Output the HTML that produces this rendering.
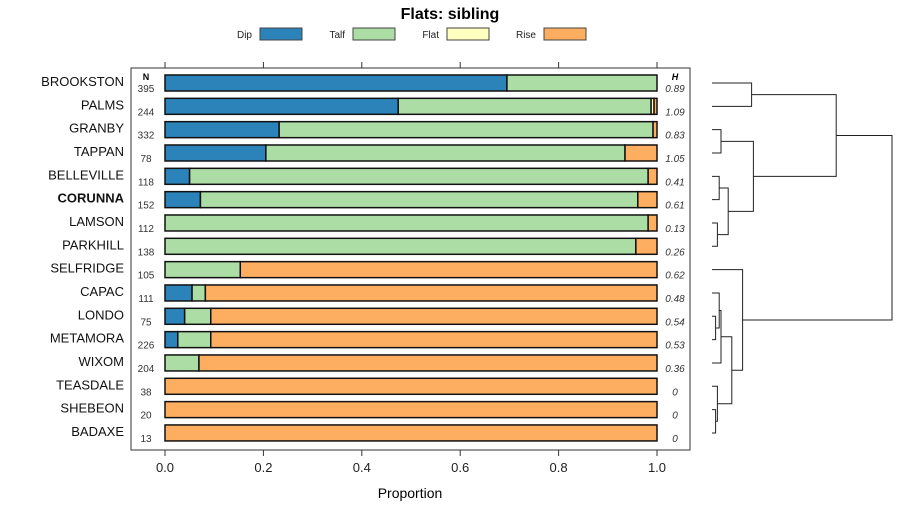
<!DOCTYPE html>
<html><head><meta charset="utf-8"><style>
body{margin:0;background:#fff;font-family:"Liberation Sans",sans-serif}
svg text{font-family:"Liberation Sans",sans-serif}
</style></head><body>
<svg id="c" width="900" height="520" viewBox="0 0 900 520">
<text x="450" y="19" text-anchor="middle" font-size="16" font-weight="bold">Flats: sibling</text>
<g id="legend"></g>
<rect x="131" y="68" width="559" height="382" fill="none" stroke="#333" stroke-width="1"/>
<g id="axes"></g>
<g id="bars"></g>
<g id="labels"></g>
<g id="dendro"></g>
<text x="146" y="80" text-anchor="middle" font-size="9" font-weight="bold">N</text>
<text x="675" y="80" text-anchor="middle" font-size="9" font-weight="bold" font-style="italic">H</text>
<text x="410" y="498" text-anchor="middle" font-size="14">Proportion</text>
</svg>
<script>
const categories=["BROOKSTON","PALMS","GRANBY","TAPPAN","BELLEVILLE","CORUNNA","LAMSON","PARKHILL","SELFRIDGE","CAPAC","LONDO","METAMORA","WIXOM","TEASDALE","SHEBEON","BADAXE"];
const seriesNames=["Dip","Talf","Flat","Rise"];
const dip=[0.695,0.474,0.232,0.205,0.05,0.072,0,0,0,0.055,0.04,0.026,0,0,0,0];
const talf=[0.305,0.514,0.76,0.73,0.932,0.889,0.982,0.957,0.153,0.027,0.053,0.067,0.069,0,0,0];
const flat=[0,0.006,0,0,0,0,0,0,0,0,0,0,0,0,0,0];
const rise=[0,0.006,0.008,0.065,0.018,0.039,0.018,0.043,0.847,0.918,0.907,0.907,0.931,1,1,1];
const nValues=[395,244,332,78,118,152,112,138,105,111,75,226,204,38,20,13];
const hValues=["0.89","1.09","0.83","1.05","0.41","0.61","0.13","0.26","0.62","0.48","0.54","0.53","0.36","0","0","0"];
const xTicks=[0,0.2,0.4,0.6,0.8,1.0];
const xTickLabels=["0.0","0.2","0.4","0.6","0.8","1.0"];
const merges=[[0,1,0.22],[2,3,0.05],[4,5,0.04],[6,7,0.03],["n2","n3",0.09],["n1","n4",0.23],["n0","n5",0.69],[10,11,0.02],[9,"n7",0.04],[12,"n8",0.05],[14,15,0.02],[13,"n10",0.03],["n9","n11",0.11],[8,"n12",0.17],["n6","n13",1.0]];
const colors=["#2b83ba","#abdda4","#ffffbf","#fdae61"];
const NS="http://www.w3.org/2000/svg";
const x=v=>165+v*492;
const y=i=>83+i*23.33;
const dx=h=>712+h*180;
function mk(t,a,p){const e=document.createElementNS(NS,t);for(const k in a)e.setAttribute(k,a[k]);p.appendChild(e);return e;}
const lg=document.getElementById('legend');
const lgX=[260,353,447,544];
seriesNames.forEach((s,i)=>{
  const t=mk('text',{x:lgX[i]-8,y:38,'text-anchor':'end','font-size':10,fill:'#222'},lg);t.textContent=s;
  
  
  const r=mk('rect',{x:lgX[i],y:28,width:42,height:12,fill:colors[i],stroke:'#444'},lg);
  
  
});
const ax=document.getElementById('axes');
xTicks.forEach((v,i)=>{
  mk('line',{x1:x(v),x2:x(v),y1:62,y2:68,stroke:'#333'},ax);
  mk('line',{x1:x(v),x2:x(v),y1:450,y2:456,stroke:'#333'},ax);
  const t=mk('text',{x:x(v),y:472,'text-anchor':'middle','font-size':13,fill:'#222'},ax);t.textContent=xTickLabels[i];
  
  
});
const bg=document.getElementById('bars'),lb=document.getElementById('labels');
const series=[dip,talf,flat,rise];
categories.forEach((c,i)=>{
  let acc=0;
  series.forEach((s,k)=>{
    const v=s[i];if(v<=0)return;
    const r=mk('rect',{x:x(acc),y:y(i)-8,width:v*492,height:16,fill:colors[k],stroke:'#111','stroke-width':1.5},bg);
    
    
    acc+=v;
  });
  const t=mk('text',{x:124,y:y(i)+3,'text-anchor':'end','font-size':13,fill:'#111','font-weight':c==='CORUNNA'?'bold':'normal'},lb);t.textContent=c;
  
  
  const n=mk('text',{x:146,y:y(i)+9,'text-anchor':'middle','font-size':10,fill:'#333'},lb);n.textContent=nValues[i];
  
  
  const h=mk('text',{x:675,y:y(i)+9,'text-anchor':'middle','font-size':10,'font-style':'italic',fill:'#333'},lb);h.textContent=hValues[i];
  
  
});
const dg=document.getElementById('dendro');
const nodes=[];
function pos(c){return typeof c==='number'?{x:dx(0),y:y(c)}:nodes[+c.slice(1)];}
merges.forEach(m=>{
  const a=pos(m[0]),b=pos(m[1]),hx=dx(m[2]);
  const p=mk('path',{d:`M${a.x},${a.y}H${hx}V${b.y}H${b.x}`,fill:'none',stroke:'#222','stroke-width':1},dg);
  
  
  nodes.push({x:hx,y:(a.y+b.y)/2});
});
</script>
</body></html>
